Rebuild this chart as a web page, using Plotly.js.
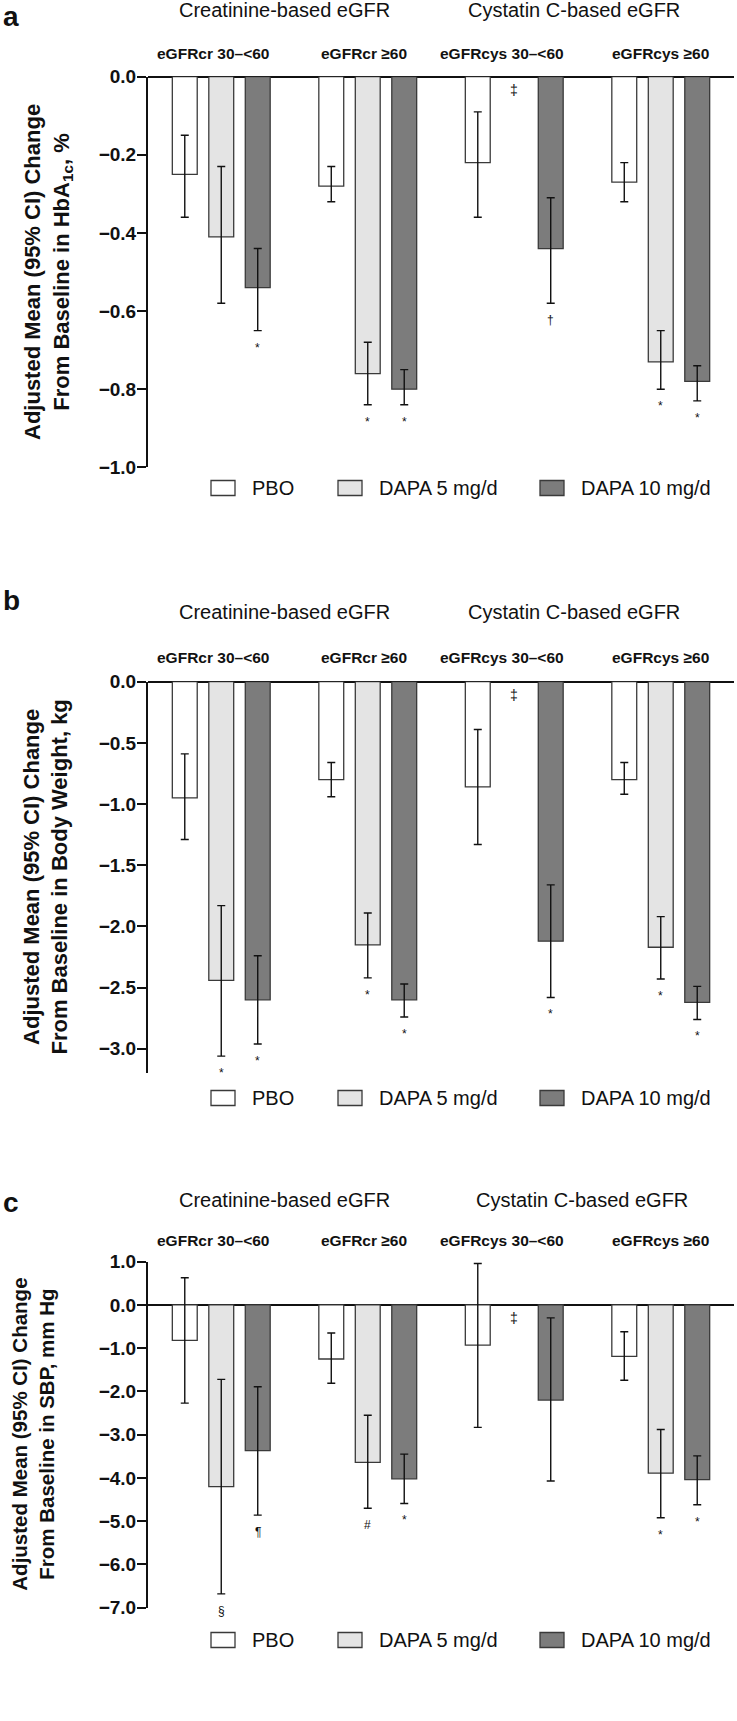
<!DOCTYPE html>
<html>
<head>
<meta charset="utf-8">
<script src="https://cdn.plot.ly/plotly-3.0.1.min.js"></script>
<style>
  body { margin: 0; background: #fff; }
  #chart { width: 737px; height: 1721px; }
</style>
</head>
<body>
<div id="chart"></div>
<script>
// subgroups and arms
var groups = ["eGFRcr 30\u2013<60", "eGFRcr \u226560", "eGFRcys 30\u2013<60", "eGFRcys \u226560"];
var headers = ["Creatinine-based eGFR", "Cystatin C-based eGFR"];
var seriesNames = ["PBO", "DAPA 5 mg/d", "DAPA 10 mg/d"];

// a: HbA1c, %
var hbaPbo = [-0.25, -0.28, -0.22, -0.27];
var hbaPboLo = [-0.36, -0.32, -0.36, -0.32];
var hbaPboHi = [-0.15, -0.23, -0.09, -0.22];
var hbaDapa5 = [-0.41, -0.76, null, -0.73];
var hbaDapa5Lo = [-0.58, -0.84, null, -0.80];
var hbaDapa5Hi = [-0.23, -0.68, null, -0.65];
var hbaDapa10 = [-0.54, -0.80, -0.44, -0.78];
var hbaDapa10Lo = [-0.65, -0.84, -0.58, -0.83];
var hbaDapa10Hi = [-0.44, -0.75, -0.31, -0.74];
var hbaMarks = [["", "", "", ""], ["", "*", "\u2021", "*"], ["*", "*", "\u2020", "*"]];

// b: body weight, kg
var wtPbo = [-0.95, -0.80, -0.86, -0.80];
var wtPboLo = [-1.29, -0.94, -1.33, -0.92];
var wtPboHi = [-0.59, -0.66, -0.39, -0.66];
var wtDapa5 = [-2.44, -2.15, null, -2.17];
var wtDapa5Lo = [-3.06, -2.42, null, -2.43];
var wtDapa5Hi = [-1.83, -1.89, null, -1.92];
var wtDapa10 = [-2.60, -2.60, -2.12, -2.62];
var wtDapa10Lo = [-2.96, -2.74, -2.58, -2.76];
var wtDapa10Hi = [-2.24, -2.47, -1.66, -2.49];
var wtMarks = [["", "", "", ""], ["*", "*", "\u2021", "*"], ["*", "*", "*", "*"]];

// c: SBP, mm Hg
var sbpPbo = [-0.82, -1.25, -0.93, -1.19];
var sbpPboLo = [-2.27, -1.81, -2.83, -1.74];
var sbpPboHi = [0.63, -0.65, 0.96, -0.62];
var sbpDapa5 = [-4.20, -3.64, null, -3.89];
var sbpDapa5Lo = [-6.68, -4.70, null, -4.92];
var sbpDapa5Hi = [-1.72, -2.55, null, -2.88];
var sbpDapa10 = [-3.37, -4.02, -2.20, -4.04];
var sbpDapa10Lo = [-4.86, -4.59, -4.07, -4.62];
var sbpDapa10Hi = [-1.89, -3.45, -0.30, -3.49];
var sbpMarks = [["", "", "", ""], ["\u00a7", "#", "\u2021", "*"], ["\u00b6", "*", "", "*"]];

var W = 737, H = 1721;
var fills = ["#ffffff", "#e4e4e4", "#7c7c7c"];
var edge = "#3a3a3a";
var slot = [-0.249, 0, 0.249];
var barW = 0.17;
var FONT = "Liberation Sans, Arial, sans-serif";

var panels = [
	{
		letter: "a", letterY: 17, top: 76.7, bottom: 467.3, range: [-1, 0], dtick: 0.2,
		title: "Adjusted Mean (95% CI) Change<br>From Baseline in HbA<sub>1c</sub>, %",
		titleX: 48, titleSize: 22,
		mean: [hbaPbo, hbaDapa5, hbaDapa10], lo: [hbaPboLo, hbaDapa5Lo, hbaDapa10Lo],
		hi: [hbaPboHi, hbaDapa5Hi, hbaDapa10Hi], marks: hbaMarks,
		headY: 10, subY: 54, legendY: 488,
		headX: [284.5, 574],
	},
	{
		letter: "b", letterY: 600, top: 681.7, bottom: 1073.3, range: [-3.2, 0], dtick: 0.5,
		title: "Adjusted Mean (95% CI) Change<br>From Baseline in Body Weight, kg",
		titleX: 45, titleSize: 22,
		mean: [wtPbo, wtDapa5, wtDapa10], lo: [wtPboLo, wtDapa5Lo, wtDapa10Lo],
		hi: [wtPboHi, wtDapa5Hi, wtDapa10Hi], marks: wtMarks,
		headY: 612, subY: 658, legendY: 1098,
		headX: [284.5, 574],
	},
	{
		letter: "c", letterY: 1202, top: 1261.7, bottom: 1607.7, range: [-7, 1], dtick: 1,
		title: "Adjusted Mean (95% CI) Change<br>From Baseline in SBP, mm Hg",
		titleX: 33, titleSize: 20.5,
		mean: [sbpPbo, sbpDapa5, sbpDapa10], lo: [sbpPboLo, sbpDapa5Lo, sbpDapa10Lo],
		hi: [sbpPboHi, sbpDapa5Hi, sbpDapa10Hi], marks: sbpMarks,
		headY: 1200, subY: 1240, legendY: 1640,
		headX: [284.5, 582],
	},
];
var subX = [213, 364, 502, 660];
var boxX = [211, 338, 540];

function note(text, x, y, font, extra) {
	var a = {
		text: text, x: x / W, y: 1 - y / H, xref: "paper", yref: "paper",
		showarrow: false, xanchor: "center", yanchor: "middle", font: font,
	};
	for (var k in extra) a[k] = extra[k];
	return a;
}

var data = [];
var layout = {
	width: W,
	height: H,
	margin: { l: 0, r: 0, t: 0, b: 0 },
	paper_bgcolor: "#fff",
	plot_bgcolor: "rgba(0,0,0,0)",
	barmode: "overlay",
	showlegend: false,
	font: { family: FONT, color: "#111" },
	annotations: [],
	shapes: [],
};

panels.forEach(function (p, k) {
	var suf = k === 0 ? "" : String(k + 1);
	var xa = "x" + suf, ya = "y" + suf;

	for (var s = 0; s < 3; s++) {
		var m = p.mean[s];
		data.push({
			type: "bar",
			name: seriesNames[s],
			x: groups.map(function (g, i) { return i + slot[s]; }),
			y: m,
			width: barW,
			xaxis: xa,
			yaxis: ya,
			hovertext: groups,
			marker: { color: fills[s], line: { color: edge, width: 1.3 } },
			error_y: {
				type: "data",
				symmetric: false,
				array: m.map(function (v, i) { return v === null ? null : p.hi[s][i] - v; }),
				arrayminus: m.map(function (v, i) { return v === null ? null : v - p.lo[s][i]; }),
				color: "#111",
				thickness: 1.4,
				width: 4,
			},
		});

		// significance symbols under the CI, or near zero when the bar is missing
		p.marks[s].forEach(function (t, i) {
			if (!t) return;
			var missing = m[i] === null;
			layout.annotations.push({
				text: t, x: i + slot[s], y: missing ? 0 : p.lo[s][i],
				xref: xa, yref: ya, showarrow: false,
				xanchor: "center", yanchor: "top",
				yshift: missing ? -3 : -8,
				font: { family: FONT, size: missing ? 14 : 12, color: "#111" },
			});
		});
	}

	layout["xaxis" + suf] = {
		domain: [148 / W, 734 / W],
		range: [-0.5, 3.5],
		anchor: ya,
		showgrid: false,
		zeroline: false,
		showline: false,
		showticklabels: false,
		ticks: "",
	};
	layout["yaxis" + suf] = {
		domain: [1 - p.bottom / H, 1 - p.top / H],
		range: p.range,
		anchor: xa,
		tick0: 0,
		dtick: p.dtick,
		tickformat: ".1f",
		ticks: "outside",
		ticklen: 9,
		tickwidth: 2,
		tickcolor: "#111",
		ticklabelstandoff: -3,
		showline: true,
		linecolor: "#111",
		linewidth: 2,
		showgrid: false,
		zeroline: true,
		zerolinecolor: "#111",
		zerolinewidth: 1.6,
		tickfont: { family: FONT, size: 19, weight: 700, color: "#111" },
	};

	var ann = layout.annotations;
	ann.push(note(p.letter, 11, p.letterY, { family: FONT, size: 28, weight: 700, color: "#111" }));
	ann.push(note(p.title, p.titleX, (p.top + p.bottom) / 2,
		{ family: FONT, size: p.titleSize, weight: 700, color: "#111" }, { textangle: -90 }));

	headers.forEach(function (h, j) {
		ann.push(note(h, p.headX[j], p.headY, { family: FONT, size: 20, color: "#111" }));
	});
	groups.forEach(function (g, j) {
		ann.push(note(g, subX[j], p.subY, { family: FONT, size: 15.5, weight: 700, color: "#111" }));
	});

	// legend row
	seriesNames.forEach(function (n, j) {
		layout.shapes.push({
			type: "rect", xref: "paper", yref: "paper",
			x0: boxX[j] / W, x1: (boxX[j] + 24) / W,
			y0: 1 - (p.legendY + 7.5) / H, y1: 1 - (p.legendY - 7.5) / H,
			fillcolor: fills[j], line: { color: edge, width: 1.3 },
		});
		ann.push(note(n, boxX[j] + 39, p.legendY, { family: FONT, size: 20, color: "#111" }, { xanchor: "left" }));
	});
});

var config = {
	responsive: false,
	displayModeBar: false,
	staticPlot: true,
};

Plotly.newPlot("chart", data, layout, config);
</script>
</body>
</html>
